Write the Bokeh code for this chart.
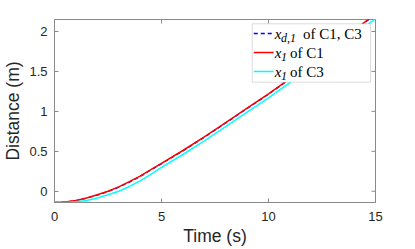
from bokeh.plotting import figure
from bokeh.models import Range1d, FixedTicker, BoxAnnotation, Label
from bokeh.embed import file_html
from bokeh.resources import INLINE

# ---- data ----
t = [0, 0.5, 1, 1.5, 2, 2.5, 3, 3.5, 4, 4.5, 5, 6, 7, 8, 9, 10, 11, 12, 13, 14, 15]
xd1_C1C3 = [-0.141, -0.136, -0.117, -0.087, -0.048, -0.004, 0.050, 0.115, 0.185, 0.265, 0.345,
            0.505, 0.675, 0.855, 1.035, 1.215, 1.405, 1.600, 1.805, 2.010, 2.215]
x1_C1 = [-0.141, -0.135, -0.115, -0.085, -0.045, 0.0, 0.055, 0.12, 0.19, 0.27, 0.35,
         0.51, 0.68, 0.86, 1.04, 1.22, 1.41, 1.605, 1.81, 2.015, 2.22]
x1_C3 = [-0.141, -0.140, -0.133, -0.115, -0.085, -0.045, 0.0, 0.06, 0.13, 0.21, 0.30,
         0.46, 0.63, 0.81, 0.99, 1.17, 1.36, 1.56, 1.76, 1.96, 2.16]

x_ticks = [0, 5, 10, 15]
y_ticks = [0, 0.5, 1, 1.5, 2]
x_range = (0, 15)
y_range = (-0.141, 2.15)

legend_main = ["x", "x", "x"]
legend_sub = ["d,1", "1", "1"]
legend_rest = ["of C1, C3", "of C1", "of C3"]
legend_colors = ["#0000ff", "#ff0000", "#00ffff"]
legend_dash = ["4 3", "solid", "solid"]

AX = "#8a8a8a"
TXT = "#262626"

p = figure(width=415, height=249, output_backend="svg", toolbar_location=None,
           x_range=Range1d(*x_range), y_range=Range1d(*y_range),
           min_border_left=52, min_border_right=40, min_border_top=19, min_border_bottom=47,
           x_axis_label="Time (s)", y_axis_label="Distance (m)")
p.grid.visible = False
p.outline_line_color = AX
p.outline_line_width = 1
p.background_fill_color = "white"
p.border_fill_color = "white"

for ax, ticks in ((p.xaxis[0], x_ticks), (p.yaxis[0], y_ticks)):
    ax.ticker = FixedTicker(ticks=ticks)
    ax.major_tick_in = 4
    ax.major_tick_out = 0
    ax.minor_tick_line_color = None
    ax.axis_line_color = AX
    ax.major_tick_line_color = AX
    ax.major_label_text_font = "Liberation Sans"
    ax.major_label_text_font_size = "13px"
    ax.major_label_text_color = TXT
    ax.axis_label_text_font = "Liberation Sans"
    ax.axis_label_text_font_size = "17.5px"
    ax.axis_label_text_font_style = "normal"
    ax.axis_label_text_color = TXT
p.xaxis[0].major_label_standoff = 9
p.xaxis[0].axis_label_standoff = 2
p.yaxis[0].major_label_standoff = 7
p.yaxis[0].axis_label_standoff = 3

# frame geometry (page pixels) used to size tick marks and place the legend
FL, FR, FT, FB = 52.0, 375.0, 19.0, 202.0
def dx(px):
    return x_range[0] + (px - FL) / (FR - FL) * (x_range[1] - x_range[0])
def dy(py):
    return y_range[1] - (py - FT) / (FB - FT) * (y_range[1] - y_range[0])
tick_dy = dy(FT) - dy(FT + 4)
tick_dx = dx(FL + 4) - dx(FL)

# inward tick marks on the top and right edges of the box
p.segment(x0=x_ticks, y0=[y_range[1]] * len(x_ticks), x1=x_ticks,
          y1=[y_range[1] - tick_dy] * len(x_ticks), line_color=AX, line_width=1)
p.segment(x0=[x_range[1]] * len(y_ticks), y0=y_ticks, x1=[x_range[1] - tick_dx] * len(y_ticks),
          y1=y_ticks, line_color=AX, line_width=1)

p.line(t, xd1_C1C3, line_color="#0000ff", line_width=1.3, line_dash="4 3")
p.line(t, x1_C1, line_color="#ff0000", line_width=1.5)
p.line(t, x1_C3, line_color="#00ffff", line_width=1.5)

# ---- legend (manual, to allow math-style subscripts) ----
p.add_layout(BoxAnnotation(left=dx(251), right=dx(370), top=dy(23.3), bottom=dy(81.7),
                           fill_color="white", fill_alpha=1.0, line_color=AX, line_width=1))
rows = [33, 52, 71]
rest_x = [302, 289, 289]
for i, ry in enumerate(rows):
    r = p.line([dx(252.5), dx(272.5)], [dy(ry), dy(ry)], line_color=legend_colors[i],
               line_width=1.5, line_dash=legend_dash[i])
    r.level = "overlay"
    p.add_layout(Label(x=dx(273.5), y=dy(ry), text=legend_main[i], text_font="Liberation Serif",
                       text_font_style="italic", text_font_size="15px", text_color="black",
                       text_baseline="middle", text_align="left", level="overlay"))
    p.add_layout(Label(x=dx(280), y=dy(ry + 4), text=legend_sub[i], text_font="Liberation Serif",
                       text_font_style="italic", text_font_size="12px", text_color="black",
                       text_baseline="middle", text_align="left", level="overlay"))
    p.add_layout(Label(x=dx(rest_x[i]), y=dy(ry), text=legend_rest[i],
                       text_font="Liberation Serif", text_font_size="15px", text_color="black",
                       text_baseline="middle", text_align="left", level="overlay"))

open("out.html", "w").write(file_html(p, INLINE))
